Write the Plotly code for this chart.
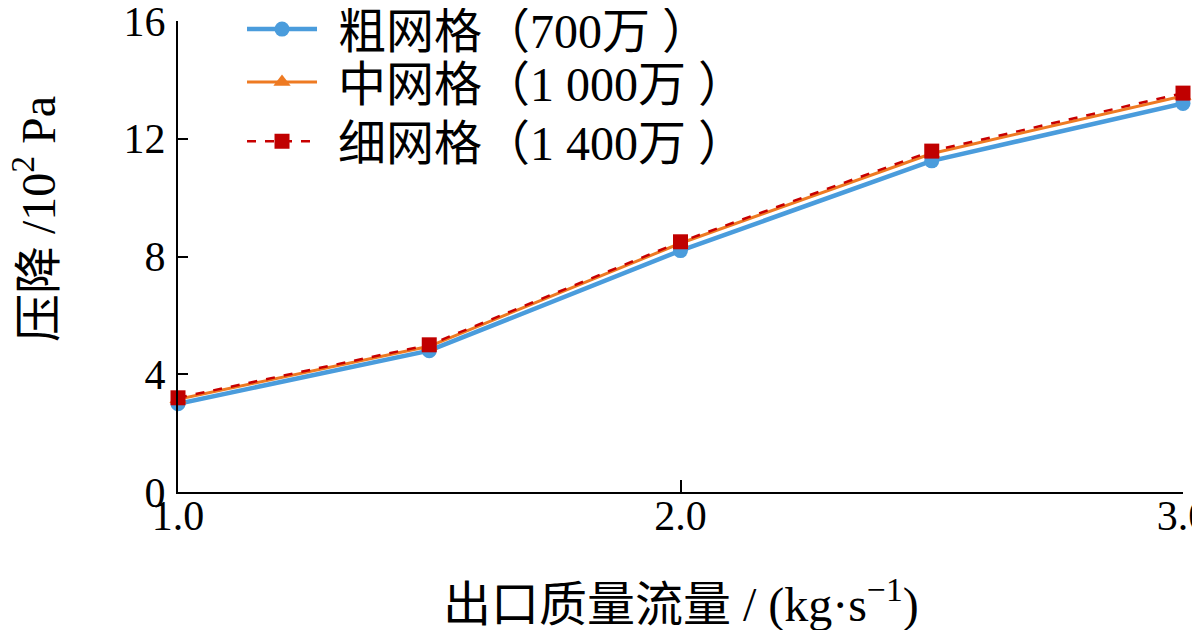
import plotly.graph_objects as go

flow = [1.0, 1.5, 2.0, 2.5, 3.0]
coarse = [3.0, 4.8, 8.2, 11.25, 13.2]
medium = [3.15, 4.95, 8.45, 11.5, 13.45]
fine = [3.2, 5.0, 8.5, 11.58, 13.55]
names = ["粗网格（700万 ）", "中网格（1 000万 ）", "细网格（1 400万 ）"]
x_ticks = [1.0, 2.0, 3.0]
x_tick_text = ["1.0", "2.0", "3.0"]
y_ticks = [0, 4, 8, 12, 16]

FONT = "Liberation Serif, Times New Roman, Noto Sans CJK SC, serif"
FS = 42
FT = 48
GAP = "\u2004"

fig = go.Figure()
fig.add_trace(go.Scatter(x=flow, y=coarse, name=GAP + names[0], mode="lines+markers",
                         legend="legend", cliponaxis=False, showlegend=True,
                         line=dict(color="#4A9CDC", width=4.5),
                         marker=dict(symbol="circle", size=15, color="#4A9CDC")))
fig.add_trace(go.Scatter(x=flow, y=medium, name=GAP + names[1], mode="lines+markers",
                         legend="legend2", cliponaxis=False, showlegend=True,
                         line=dict(color="#EE7A22", width=3),
                         marker=dict(symbol="triangle-up", size=15, color="#EE7A22")))
fig.add_trace(go.Scatter(x=flow, y=fine, name=GAP + names[2], mode="lines+markers",
                         legend="legend3", cliponaxis=False, showlegend=True,
                         line=dict(color="#C80000", width=2.5, dash="dash"),
                         marker=dict(symbol="square", size=15, color="#C00000")))

leg_common = dict(x=0.0637, xanchor="left", yanchor="middle", yref="container",
                  bgcolor="rgba(0,0,0,0)", font=dict(size=FT),
                  itemwidth=70)

fig.update_layout(
    width=1200, height=630,
    showlegend=True,
    paper_bgcolor="white", plot_bgcolor="white",
    margin=dict(l=170, r=25, t=13, b=146, autoexpand=False),
    font=dict(family=FONT, size=FS, color="black"),
    legend=dict(y=0.966, **leg_common),
    legend2=dict(y=0.882, **leg_common),
    legend3=dict(y=0.788, **leg_common),
    xaxis=dict(range=[1.0, 3.0], tickvals=x_ticks, ticktext=x_tick_text,
               showline=True, linecolor="black", linewidth=2,
               ticks="inside", ticklen=12, tickwidth=2, tickcolor="black",
               showgrid=False, zeroline=False, automargin=False,
               ticklabeloverflow="allow", ticklabelstandoff=-14,
               tickfont=dict(size=FS)),
    yaxis=dict(range=[0, 16], tickvals=y_ticks,
               showline=True, linecolor="black", linewidth=2,
               ticks="inside", ticklen=10, tickwidth=2, tickcolor="black",
               showgrid=False, zeroline=False, automargin=False,
               ticklabeloverflow="allow", ticklabelstandoff=2,
               tickfont=dict(size=FS)),
    annotations=[
        dict(text="压降 /10<sup>2</sup> Pa", textangle=-90,
             xref="paper", yref="paper", x=-0.143, y=0.58,
             xanchor="center", yanchor="middle", showarrow=False,
             font=dict(size=FT)),
        dict(text="出口质量流量 / (kg·s<sup>−1</sup>)",
             xref="paper", yref="paper", x=0.5, y=-0.232,
             xanchor="center", yanchor="middle", showarrow=False,
             font=dict(size=FT)),
    ],
)

fig.write_html("out.html")
